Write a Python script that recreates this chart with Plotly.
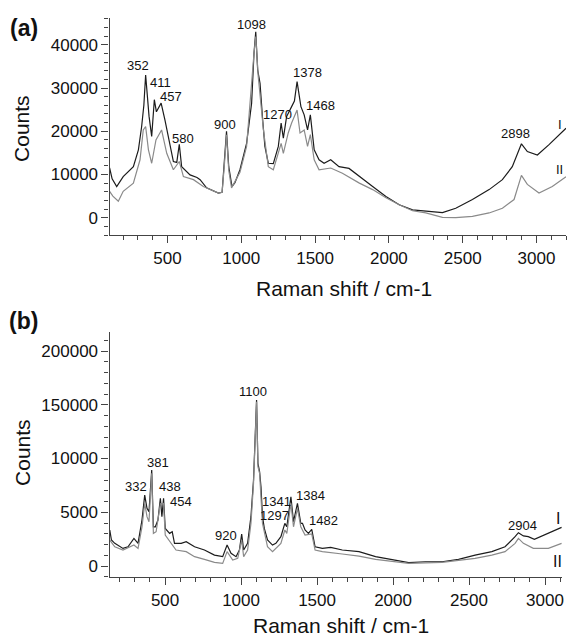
import plotly.graph_objects as go

# ---------------- Panel (a) ----------------
a_I_x = [108,125,156,200,269,303,325,340,352,365,375,393,411,425,440,457,483,518,540,563,580,596,653,700,721,765,845,870,885,900,915,937,957,991,1036,1070,1086,1098,1111,1127,1145,1160,1183,1217,1251,1270,1285,1307,1341,1360,1378,1404,1426,1449,1468,1494,1527,1561,1606,1662,1730,1800,1890,1980,2070,2160,2250,2363,2453,2566,2679,2769,2836,2882,2898,2938,3006,3085,3200]
a_I_y = [11500,9000,7200,9500,11800,15700,21100,26000,33000,26500,23500,18800,27300,24500,25500,26500,22600,16500,13000,12800,17000,11800,9900,9300,8800,6900,5700,5900,13400,20000,11800,7200,8100,11100,17200,26500,38000,43000,34200,31100,22600,16500,12600,12500,16500,21900,18400,23400,25700,27000,31500,25700,23800,20300,23800,15700,13400,12600,13400,11800,11400,9500,7200,4900,3000,1800,1600,1200,2200,4200,6500,8800,11800,16100,17100,15300,14500,16900,20700]

a_II_x = [108,130,167,200,269,314,336,352,371,393,422,460,495,540,580,608,676,743,845,870,885,900,915,934,991,1036,1086,1098,1115,1150,1183,1217,1270,1285,1318,1341,1378,1398,1426,1449,1468,1494,1527,1606,1685,1800,1890,1980,2070,2160,2250,2363,2453,2566,2679,2769,2848,2882,2898,2938,2972,3017,3107,3200]
a_II_y = [6100,5000,3800,6100,8000,13400,20300,21100,15700,12600,18000,20300,14900,11100,13000,9500,8800,7200,5700,5900,12000,19200,11000,6900,10500,16500,38000,41900,32600,20300,11800,11100,17200,14900,19600,21900,24900,19600,20300,16500,19200,13400,11100,11500,10300,8000,6500,4600,3000,1600,1100,100,0,300,1100,2200,4200,8000,9800,7700,6900,5700,7200,9500]

a_peak_text = ["352","411","457","580","900","1098","1270","1378","1468","2898"]
a_peak_x = [303,450,524,603,890,1066,1244,1447,1537,2858]
a_peak_y = [35100,31300,28000,18400,21500,44600,23800,33600,25900,19400]
a_series_text = ["I","II"]
a_series_x = [3158,3158]
a_series_y = [21500,11200]

a_xticks = [500,1000,1500,2000,2500,3000]
a_yticks = [0,10000,20000,30000,40000]

# ---------------- Panel (b) ----------------
b_I_x = [136,147,169,223,256,295,322,348,366,381,394,412,423,436,453,469,479,490,501,530,547,562,606,639,694,759,825,879,908,934,967,989,1004,1017,1043,1065,1082,1094,1102,1111,1122,1131,1141,1153,1174,1207,1229,1262,1288,1301,1328,1345,1371,1393,1404,1421,1443,1465,1487,1535,1590,1666,1776,1885,1994,2103,2213,2322,2431,2540,2650,2737,2803,2825,2858,2890,2930,3022,3109]
b_I_y = [33500,24200,21100,16400,17900,25700,21100,42800,66000,53700,50500,89300,36500,36500,42800,63000,45900,63000,35000,30400,31900,21100,21100,22600,17900,14900,10200,8700,19500,11800,8700,14900,29800,14900,21100,45900,80000,126500,154400,95500,87700,73800,45900,35000,24200,19500,21100,27300,39700,36500,64400,41200,58300,39700,39700,33500,30400,34100,17900,16400,17300,14900,13400,8700,5600,3100,4000,4000,6200,10200,13400,17900,27300,31000,28000,27300,24800,30400,36000]

b_II_x = [136,169,223,295,322,348,366,381,394,412,423,441,469,490,501,541,572,639,694,759,825,879,908,945,978,1004,1017,1043,1065,1082,1102,1111,1122,1141,1174,1207,1262,1288,1301,1328,1345,1371,1393,1421,1465,1487,1535,1666,1776,1885,1994,2103,2322,2431,2540,2650,2737,2803,2825,2858,2923,3022,3109]
b_II_y = [24200,17900,14900,19500,16400,36500,58300,45900,41200,86200,30400,31900,58000,58300,28800,21100,14900,13400,8700,6200,3400,2500,13400,5600,7100,24200,8700,14900,39700,76900,152900,92400,86200,39700,17900,13400,21100,33500,30400,58300,36500,53700,36500,28800,29800,14900,13400,11200,9300,6200,4000,2500,3400,5000,7100,10200,13400,21100,25700,21100,16400,16400,21100]

b_peak_text = ["332","381","438","454","920","1100","1297","1341","1384","1482","2904"]
b_peak_x = [307,453,530,602,901,1076,1218,1236,1455,1544,2853]
b_peak_y = [74400,96400,74400,60500,28800,162100,47400,59800,65400,42100,38100]
b_series_text = ["I","II"]
b_series_x = [3087,3083]
b_series_y = [44400,4000]

b_xticks = [500,1000,1500,2000,2500,3000]
b_yticks = [0,50000,100000,150000,200000]
b_ytick_labels = ["0","5000","10000","150000","200000"]

W, H = 572, 637
FONT = "Liberation Sans, Arial, sans-serif"
AXC = "#444444"
C_I = "#1c1c1c"
C_II = "#8a8a8a"

fig = go.Figure()
fig.add_trace(go.Scatter(x=a_I_x, y=a_I_y, mode="lines", line=dict(color=C_I, width=1.2), xaxis="x", yaxis="y", showlegend=False))
fig.add_trace(go.Scatter(x=a_II_x, y=a_II_y, mode="lines", line=dict(color=C_II, width=1.2), xaxis="x", yaxis="y", showlegend=False))
fig.add_trace(go.Scatter(x=b_I_x, y=b_I_y, mode="lines", line=dict(color=C_I, width=1.2), xaxis="x2", yaxis="y2", showlegend=False))
fig.add_trace(go.Scatter(x=b_II_x, y=b_II_y, mode="lines", line=dict(color=C_II, width=1.2), xaxis="x2", yaxis="y2", showlegend=False))

def xax(domain, rng, anchor, ticks):
    return dict(domain=domain, range=rng, anchor=anchor, showgrid=False, zeroline=False,
                showline=True, linecolor=AXC, linewidth=1.3, ticks="outside", ticklen=7,
                tickwidth=1, tickcolor=AXC, tickvals=ticks, ticktext=[str(t) for t in ticks],
                tickfont=dict(family=FONT, size=17, color="#111"),
                minor=dict(dtick=100, tick0=0, ticks="outside", ticklen=4, tickcolor=AXC, tickwidth=1))

def yax(domain, rng, anchor, ticks, labels, mdt):
    return dict(domain=domain, range=rng, anchor=anchor, showgrid=False, zeroline=False,
                showline=True, linecolor=AXC, linewidth=1.3, ticks="outside", ticklen=7,
                tickwidth=1, tickcolor=AXC, tickvals=ticks, ticktext=labels,
                tickfont=dict(family=FONT, size=17, color="#111"),
                minor=dict(dtick=mdt, tick0=0, ticks="outside", ticklen=4, tickcolor=AXC, tickwidth=1))

fig.update_layout(
    width=W, height=H, margin=dict(l=0, r=0, t=0, b=0),
    paper_bgcolor="white", plot_bgcolor="white",
    xaxis=xax([110/W, 568/W], [108, 3200], "y", a_xticks),
    yaxis=yax([1-235/H, 1-18/H], [-4000, 46200], "x", a_yticks, [str(t) for t in a_yticks], 2000),
    xaxis2=xax([110/W, 564/W], [135, 3112], "y2", b_xticks),
    yaxis2=yax([1-577/H, 1-332/H], [-10200, 217700], "x2", b_yticks, b_ytick_labels, 10000),
)

ann = []
for t, x, y in zip(a_peak_text, a_peak_x, a_peak_y):
    ann.append(dict(x=x, y=y, xref="x", yref="y", text=t, showarrow=False,
                    font=dict(family=FONT, size=13, color="#111")))
for t, x, y in zip(a_series_text, a_series_x, a_series_y):
    ann.append(dict(x=x, y=y, xref="x", yref="y", text=t, showarrow=False,
                    font=dict(family=FONT, size=13, color="#111")))
for t, x, y in zip(b_peak_text, b_peak_x, b_peak_y):
    ann.append(dict(x=x, y=y, xref="x2", yref="y2", text=t, showarrow=False,
                    font=dict(family=FONT, size=13, color="#111")))
for t, x, y in zip(b_series_text, b_series_x, b_series_y):
    ann.append(dict(x=x, y=y, xref="x2", yref="y2", text=t, showarrow=False,
                    font=dict(family=FONT, size=16, color="#111")))

def paper_text(text, px, py, size, bold=False, angle=0):
    return dict(x=px/W, y=1-py/H, xref="paper", yref="paper", text=("<b>%s</b>" % text) if bold else text,
                showarrow=False, textangle=angle, xanchor="center", yanchor="middle",
                font=dict(family=FONT, size=size, color="#111"))

ann += [
    paper_text("(a)", 24, 28, 23, bold=True),
    paper_text("(b)", 24, 321, 23, bold=True),
    paper_text("Counts", 22, 128, 21, angle=-90),
    paper_text("Counts", 22, 452, 21, angle=-90),
    paper_text("Raman shift / cm-1", 345, 288, 21),
    paper_text("Raman shift / cm-1", 342, 625, 21),
]
fig.update_layout(annotations=ann)

fig.write_html("out.html")
